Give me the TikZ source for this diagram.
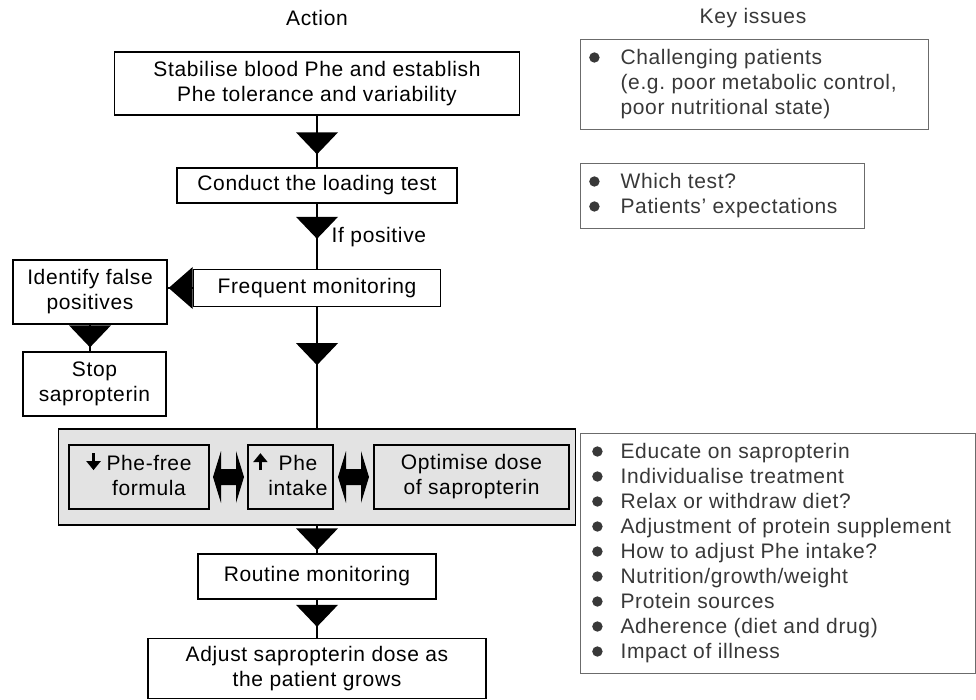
\documentclass[tikz,border=0pt]{standalone}
\usepackage{fontspec}
\setmainfont[LetterSpace=3]{Liberation Sans}
\usetikzlibrary{calc,arrows.meta}

\definecolor{boxgray}{gray}{0.89}
\definecolor{keytext}{gray}{0.22}
\definecolor{keyline}{gray}{0.42}

% triangle heads on the flow lines, apex at #1
\newcommand{\dntip}[1]{\fill (#1) -- ++(-21,-22) -- ++(42,0) -- cycle;}
\newcommand{\lftip}[1]{\fill (#1) -- ++(24,-21) -- ++(0,42) -- cycle;}
\newcommand{\dblarr}[1]{\fill (#1) ++(-15.5,0) -- ++(8,-26) -- ++(0,18) -- ++(15,0) -- ++(0,-18) -- ++(8,26) -- ++(-8,26) -- ++(0,-18) -- ++(-15,0) -- ++(0,18) -- cycle;}
\newcommand{\kb}{\raisebox{2pt}{\tikz\fill (0,0) circle (5.2pt);}}
\newcommand{\uparr}{\tikz[baseline=0pt]\draw[line width=3.6pt,-{Triangle[width=14pt,length=9pt]}] (0,0) -- (0,17pt);}
\newcommand{\dnarr}{\tikz[baseline=0pt]\draw[line width=3.6pt,-{Triangle[width=14pt,length=9pt]}] (0,17pt) -- (0,0);}

\begin{document}
\begin{tikzpicture}[x=1pt, y=-1pt,
  every node/.style={font=\fontsize{21}{25}\selectfont},
  act/.style={draw, line width=1.3pt, inner sep=0pt, align=center},
  inact/.style={act, fill=boxgray},
  key/.style={draw=keyline, line width=1.4pt, anchor=north west, inner sep=0pt},
  keylist/.style={text=keytext, anchor=west, inner sep=0pt},
  flow/.style={line width=2.6pt}]

\useasboundingbox (0,0) rectangle (976,700);

\node at (317,18) {Action};
\node[text=keytext] at (753,18) {Key issues};

% action column
\node[act, minimum width=405pt, minimum height=63pt] (stab) at (317,83.5) {Stabilise blood Phe and establish\\Phe tolerance and variability};
\node[act, minimum width=280pt, minimum height=35pt] (loadtest) at (317,185.5) {Conduct the loading test};
\node[act, minimum width=247pt, minimum height=37pt] (freqmon) at (317,288) {Frequent monitoring};
\node[act, minimum width=154pt, minimum height=64pt] (falsepos) at (90,292) {Identify false\\positives};
\node[act, minimum width=143pt, minimum height=64pt] (stopsap) at (94.5,384) {Stop\\sapropterin};

\node[inact, minimum width=517pt, minimum height=96pt] (adjbox) at (317,477) {};
\node[inact, minimum width=140pt, minimum height=64pt] (free) at (139,477) {\begin{tabular}{@{}c@{\hspace{6pt}}c@{}}\dnarr & Phe-free\\ & formula\end{tabular}};
\node[inact, minimum width=85pt, minimum height=64pt] (intake) at (290.5,477) {\begin{tabular}{@{}c@{\hspace{1pt}}c@{}}\uparr & Phe\\ & intake\end{tabular}};
\node[inact, minimum width=195pt, minimum height=64pt] (dose) at (471.5,477) {Optimise dose\\of sapropterin};

\node[act, minimum width=238pt, minimum height=45pt] (routine) at (317,576.5) {Routine monitoring};
\node[act, minimum width=338pt, minimum height=60pt] (grows) at (317,668.5) {Adjust sapropterin dose as\\the patient grows};

% connectors
\draw[flow] (stab) -- (loadtest);
\dntip{$(loadtest.north)+(0,-13)$}
\draw[flow] (loadtest) -- (freqmon);
\dntip{$(freqmon.north)+(0,-30)$}
\node[anchor=base west, fill=white, inner sep=1.5pt] (ifpos) at (330,243) {If positive};

\draw[flow] (freqmon.west) -- (freqmon.west -| falsepos.east);
\lftip{$(freqmon.west -| falsepos.east)+(1,0)$}
\draw[flow] (falsepos.south) -- (falsepos.south |- stopsap.north);
\dntip{$(falsepos.south |- stopsap.north)+(0,-4)$}

\draw[flow] (freqmon) -- (adjbox);
\dntip{$(freqmon.south)+(0,58)$}
\draw[flow] (adjbox) -- (routine);
\dntip{$(routine.north)+(0,-3)$}
\draw[flow] (routine) -- (grows);
\dntip{$(grows.north)+(0,-11)$}

\coordinate (d1) at ($(free.east)!0.5!(intake.west)$);
\coordinate (d2) at ($(intake.east)!0.5!(dose.west)$);
\dblarr{d1}
\dblarr{d2}

% key issues column
\node[key, minimum width=348pt, minimum height=90pt] (issues1) at (580,39) {};
\node[keylist] at ([xshift=9pt]issues1.west) {\begin{tabular}{@{}c@{\hspace{21pt}}l@{}}\kb & Challenging patients\\ & (e.g.\ poor metabolic control,\\ & poor nutritional state)\end{tabular}};

\node[key, minimum width=284pt, minimum height=65pt] (issues2) at (580,163) {};
\node[keylist] at ([xshift=9pt]issues2.west) {\begin{tabular}{@{}c@{\hspace{21pt}}l@{}}\kb & Which test?\\ \kb & Patients’ expectations\end{tabular}};

\node[key, minimum width=395pt, minimum height=240pt] (issues3) at (580,433) {};
\node[keylist] at ([xshift=12pt]issues3.west) {\begin{tabular}{@{}c@{\hspace{18pt}}l@{}}
\kb & Educate on sapropterin\\
\kb & Individualise treatment\\
\kb & Relax or withdraw diet?\\
\kb & Adjustment of protein supplement\\
\kb & How to adjust Phe intake?\\
\kb & Nutrition/growth/weight\\
\kb & Protein sources\\
\kb & Adherence (diet and drug)\\
\kb & Impact of illness
\end{tabular}};
\end{tikzpicture}
\end{document}
